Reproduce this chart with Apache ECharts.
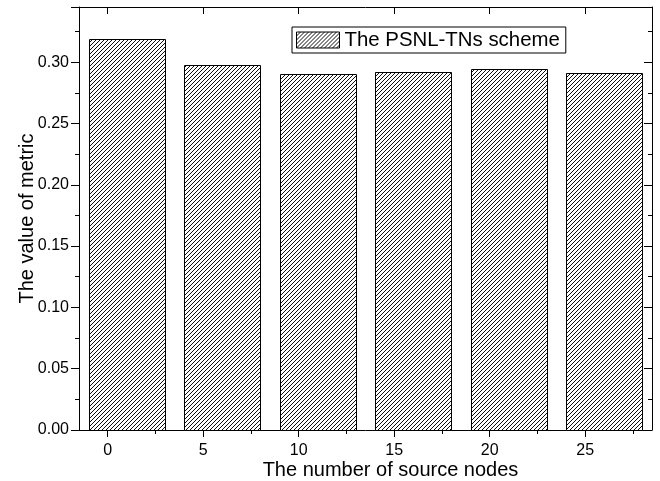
<!DOCTYPE html>
<html>
<head>
<meta charset="utf-8">
<script src="https://cdn.jsdelivr.net/npm/echarts@6/dist/echarts.min.js"></script>
<style>
html,body{margin:0;padding:0;background:#fff;}
#c{width:660px;height:481px;}
</style>
</head>
<body>
<div id="c"></div>
<script>
// ---- data ----
const sourceNodes = [0, 5, 10, 15, 20, 25];
const metricValues = [0.319, 0.2975, 0.290, 0.292, 0.2943, 0.2908];
const xMajorTicks = [0, 5, 10, 15, 20, 25];
const xMinorTicks = [2.5, 7.5, 12.5, 17.5, 22.5, 27.5];
const seriesName = 'The PSNL-TNs scheme';
const xTitle = 'The number of source nodes';
const yTitle = 'The value of metric';

// ---- hatch pattern ----
function makeHatch() {
  const s = 4;
  const cv = document.createElement('canvas');
  cv.width = s; cv.height = s;
  const ctx = cv.getContext('2d');
  ctx.fillStyle = '#fff';
  ctx.fillRect(0, 0, s, s);
  ctx.strokeStyle = '#000';
  ctx.lineWidth = 0.95;
  for (let k = -1; k <= 1; k++) {
    ctx.beginPath();
    ctx.moveTo(-1 + k * s, s + 1);
    ctx.lineTo(s + 1 + k * s, -1);
    ctx.stroke();
  }
  return cv;
}
const hatch = { image: makeHatch(), repeat: 'repeat' };

const BAR_FROM = -1, BAR_TO = 3;
const font = 'Liberation Sans, Arial, sans-serif';

const chart = echarts.init(document.getElementById('c'), null, { renderer: 'canvas' });
const xRange = { min: -1.5, max: 28.5 };
const yRange = { min: 0, max: 0.345 };
const black = '#000';

chart.setOption({
  animation: false,
  backgroundColor: '#fff',
  grid: { left: 79, right: 8, top: 7, bottom: 51, containLabel: false, outerBoundsMode: 'none' },
  legend: {
    left: 292, top: 27,
    padding: [3, 6, 3, 4],
    borderColor: black, borderWidth: 1,
    itemWidth: 43, itemHeight: 16,
    textStyle: { fontFamily: font, fontSize: 20.4, color: black },
    data: [{ name: seriesName, icon: 'rect', itemStyle: { color: hatch, borderColor: black, borderWidth: 1 } }]
  },
  xAxis: [
    {
      type: 'value', position: 'bottom', ...xRange,
      axisLine: { show: true, onZero: false, lineStyle: { color: black, width: 1 } },
      axisTick: { show: true, inside: false, length: 7, customValues: xMajorTicks, lineStyle: { color: black } },
      axisLabel: { show: true, margin: 13, customValues: xMajorTicks, fontFamily: font, fontSize: 16, color: black },
      splitLine: { show: false },
      name: xTitle, nameLocation: 'middle', nameGap: 30, nameMoveOverlap: false,
      nameTextStyle: { fontFamily: font, fontSize: 20, color: black, padding: [0, 0, 0, 50] }
    },
    {
      type: 'value', position: 'bottom', ...xRange,
      axisLine: { show: false },
      axisTick: { show: true, inside: false, length: 4, customValues: xMinorTicks, lineStyle: { color: black } },
      axisLabel: { show: false }, splitLine: { show: false }
    },
    {
      type: 'value', position: 'top', ...xRange,
      axisLine: { show: true, onZero: false, lineStyle: { color: black, width: 1 } },
      axisTick: { show: true, inside: true, length: 7, customValues: xMajorTicks, lineStyle: { color: black } },
      axisLabel: { show: false }, splitLine: { show: false }
    },
    {
      type: 'value', position: 'top', ...xRange,
      axisLine: { show: false },
      axisTick: { show: true, inside: true, length: 4, customValues: xMinorTicks, lineStyle: { color: black } },
      axisLabel: { show: false }, splitLine: { show: false }
    }
  ],
  yAxis: [
    {
      type: 'value', position: 'left', ...yRange, interval: 0.05,
      axisLine: { show: true, onZero: false, lineStyle: { color: black, width: 1 } },
      axisTick: { show: true, inside: false, length: 8, lineStyle: { color: black } },
      minorTick: { show: true, splitNumber: 2, length: 4, lineStyle: { color: black } },
      axisLabel: { margin: 10, fontFamily: font, fontSize: 16, color: black, formatter: v => v.toFixed(2), showMaxLabel: false },
      splitLine: { show: false },
      name: yTitle, nameLocation: 'middle', nameGap: 42, nameMoveOverlap: false,
      nameTextStyle: { fontFamily: font, fontSize: 20, color: black }
    },
    {
      type: 'value', position: 'right', ...yRange, interval: 0.05,
      axisLine: { show: true, onZero: false, lineStyle: { color: black, width: 1 } },
      axisTick: { show: true, inside: true, length: 8, lineStyle: { color: black } },
      minorTick: { show: true, splitNumber: 2, length: 4, lineStyle: { color: black } },
      axisLabel: { show: false }, splitLine: { show: false }
    }
  ],
  series: [{
    name: seriesName,
    type: 'custom',
    xAxisIndex: 0, yAxisIndex: 0,
    itemStyle: { color: hatch, borderColor: black, borderWidth: 1 },
    data: sourceNodes.map((c, i) => [c, metricValues[i]]),
    encode: { x: 0, y: 1 },
    renderItem: function (params, api) {
      const c = api.value(0), v = api.value(1);
      const p0 = api.coord([c + BAR_FROM, v]);
      const p1 = api.coord([c + BAR_TO, 0]);
      return {
        type: 'rect',
        shape: { x: Math.round(p0[0]) + 0.5, y: Math.round(p0[1]) + 0.5, width: Math.round(p1[0] - p0[0]), height: Math.round(p1[1]) - Math.round(p0[1]) },
        style: { fill: hatch, stroke: black, lineWidth: 1 }
      };
    }
  }]
});
</script>
</body>
</html>
